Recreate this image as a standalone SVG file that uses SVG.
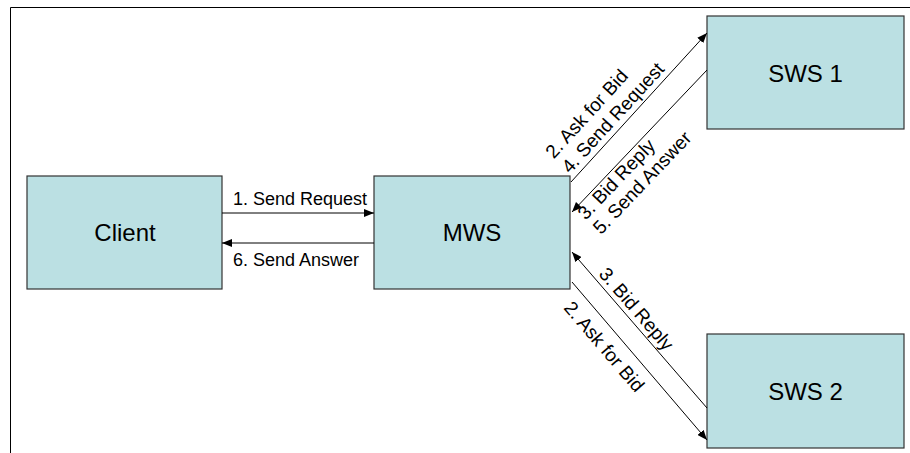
<svg xmlns="http://www.w3.org/2000/svg" width="910" height="453" viewBox="0 0 910 453">
  <style>
    .box { fill: #BBE0E3; stroke: #333333; stroke-width: 1.2; }
    .name { font-family: "Liberation Sans", Arial, sans-serif; font-size: 24px; fill: #000; text-anchor: middle; }
    .lbl { font-family: "Liberation Sans", Arial, sans-serif; font-size: 18px; fill: #000; }
    .dlbl { font-family: "Liberation Sans", Arial, sans-serif; font-size: 19px; fill: #000; }
    .conn { stroke: #000; stroke-width: 1; fill: none; marker-end: url(#arrow); }
    .frame { stroke: #000; stroke-width: 1; fill: none; }
  </style>
  <defs>
    <marker id="arrow" markerUnits="userSpaceOnUse" markerWidth="10" markerHeight="8" refX="10" refY="4" orient="auto">
      <path d="M0,0 L10,4 L0,8 z" fill="#000"/>
    </marker>
  </defs>
  <rect x="0" y="0" width="910" height="453" fill="#fff"/>
  <path class="frame" d="M10.5,453 L10.5,7.5 L910,7.5"/>

  <g id="client">
    <rect class="box" x="27" y="176" width="195" height="113"/>
    <text class="name" x="125" y="241">Client</text>
  </g>
  <g id="mws">
    <rect class="box" x="374" y="176" width="196" height="113"/>
    <text class="name" x="472" y="241">MWS</text>
  </g>
  <g id="sws1">
    <rect class="box" x="707" y="16" width="197" height="113"/>
    <text class="name" x="805.5" y="82">SWS 1</text>
  </g>
  <g id="sws2">
    <rect class="box" x="707" y="334" width="197" height="114"/>
    <text class="name" x="805.5" y="400">SWS 2</text>
  </g>

  <g id="connectors">
    <line class="conn" x1="222" y1="213" x2="374" y2="213"/>
    <line class="conn" x1="374" y1="243" x2="222" y2="243"/>
    <line class="conn" x1="571" y1="182" x2="707" y2="33"/>
    <line class="conn" x1="707" y1="70" x2="572" y2="212"/>
    <line class="conn" x1="707" y1="408" x2="572" y2="252"/>
    <line class="conn" x1="572" y1="282" x2="707" y2="440"/>

    <text class="lbl" x="233" y="205">1. Send Request</text>
    <text class="lbl" x="233" y="266">6. Send Answer</text>

    <text class="dlbl" transform="translate(553.7,159.4) rotate(-47.6)">2. Ask for Bid</text>
    <text class="dlbl" transform="translate(569.9,174.3) rotate(-47.6)">4. Send Request</text>

    <text class="dlbl" transform="translate(585.7,220.8) rotate(-46.4)">3. Bid Reply</text>
    <text class="dlbl" transform="translate(600.9,235.3) rotate(-46.4)">5. Send Answer</text>

    <text class="dlbl" transform="translate(598,274.4) rotate(49.1)">3. Bid Reply</text>
    <text class="dlbl" transform="translate(562.9,308.2) rotate(49.5)">2. Ask for Bid</text>
  </g>
</svg>
